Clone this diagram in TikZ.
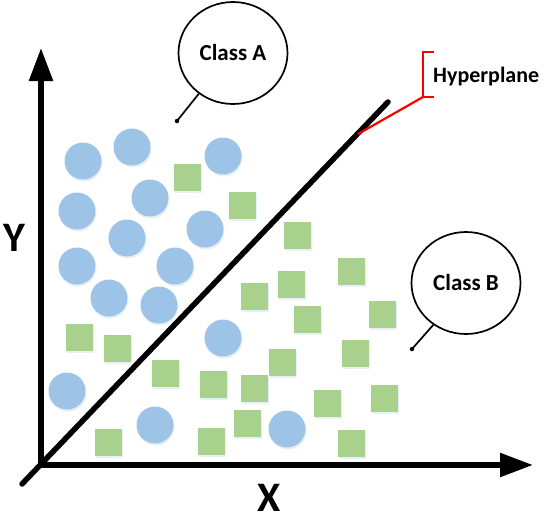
\documentclass[tikz,border=0pt]{standalone}
\usepackage{fontspec}
\setmainfont{Carlito}
\usetikzlibrary{arrows.meta,shapes.geometric,shadows}
\definecolor{ptblue}{HTML}{9DC3E6}
\definecolor{ptgreen}{HTML}{A9D18E}
\definecolor{hypred}{HTML}{FF0000}
\begin{document}
\begin{tikzpicture}[x=1pt,y=-1pt,
  blueball/.style={circle, fill=ptblue, minimum size=37pt, inner sep=0pt,
    drop shadow={shadow xshift=1pt, shadow yshift=-2pt, opacity=0.35, fill=ptblue!70}},
  greensq/.style={rectangle, fill=ptgreen, minimum size=27pt, inner sep=0pt,
    drop shadow={shadow xshift=1pt, shadow yshift=-2pt, opacity=0.35, fill=ptblue!70}},
  callout/.style={ellipse, draw, line width=1.7pt, minimum width=109pt, minimum height=102pt,
    inner sep=0pt, fill=white, font=\fontsize{23}{26}\selectfont\bfseries},
  calltail/.style={line width=1.7pt},
  calldot/.style={circle, fill=black, minimum size=4.5pt, inner sep=0pt},
  axis/.style={line width=5.5pt, {Triangle[length=33pt,width=23pt]}-{Triangle[length=33pt,width=23pt]}},
  hyper/.style={line width=5.5pt, line cap=round},
  redline/.style={draw=hypred, line width=2.2pt},
  axlabel/.style={font=\fontsize{42}{45}\selectfont\bfseries, inner sep=0pt},
  hyplabel/.style={font=\fontsize{22}{26}\selectfont\bfseries, inner sep=0pt, anchor=base west}
]
\useasboundingbox (0,0) rectangle (550,523);

% axes
\coordinate (O) at (41,465);
\coordinate (ytip) at (41,48);
\coordinate (xtip) at (533,465);
\draw[axis] (ytip) -- (O) -- (xtip);
\node[axlabel] (ylab) at (14,238) {Y};
\node[axlabel] (xlab) at (269,498) {X};

% class A points
\foreach \n/\x/\y in {c1/83/161, c2/132/147, c3/223/156, c4/77/211, c5/150/198,
  c6/127/238, c7/205/229, c8/77/266, c9/175/266, c10/109/298, c11/159/305,
  c12/223/338, c13/67/391, c14/155/425, c15/287/429}
  \node[blueball] (\n) at (\x,\y) {};

% class B points
\foreach \n/\x/\y in {s1/187/177, s2/242/205, s3/297/235, s4/351/271, s5/291/284,
  s6/254/296, s7/307/319, s8/382/314, s9/79/337, s10/117/348, s11/355/353,
  s12/282/362, s13/165/373, s14/213/384, s15/254/388, s16/327/403, s17/384/398,
  s18/108/442, s19/211/441, s20/247/423, s21/351/443}
  \node[greensq] (\n) at (\x,\y) {};

% hyperplane
\coordinate (hpS) at (22,484);
\coordinate (hpE) at (388,102);
\draw[hyper] (hpS) -- (hpE);
\coordinate (hpP) at (358,134);
\coordinate (brT) at (434,52);
\coordinate (brB) at (434,97);
\coordinate (brC) at (423,97);
\draw[redline] (hpP) -- (brC);
\draw[redline] (brT) -| (brC) -- (brB);
\node[hyplabel] (hyp) at (433,82) {Hyperplane};

% callouts
\node[callout] (classA) at (233,53) {Class A};
\node[calldot] (dotA) at (177,121) {};
\draw[calltail] (classA.230) -- (dotA.center);
\node[callout] (classB) at (466,283) {Class B};
\node[calldot] (dotB) at (412,349) {};
\draw[calltail] (classB.232) -- (dotB.center);
\end{tikzpicture}
\end{document}
